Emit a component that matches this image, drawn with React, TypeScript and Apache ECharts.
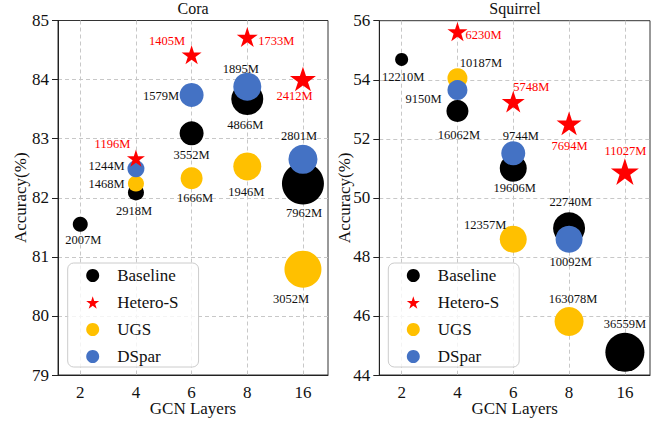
import React, { useEffect, useRef } from "react";
import * as echarts from "echarts";

// ---------- data ----------
const layers = ["2", "4", "6", "8", "16"];
const seriesNames = ["Baseline", "Hetero-S", "UGS", "DSpar"];

// Cora
const coraBaselineAcc = [81.55, 82.09, 83.09, 83.67, 82.24];
const coraBaselineMem = [2007, 2918, 3552, 4866, 7962];
const coraBaselineSize = [15, 16, 24, 32, 42];
const coraHeteroAcc = [null, 82.67, 84.42, 84.72, 84.01];
const coraHeteroMem = [null, 1196, 1405, 1733, 2412];
const coraHeteroSize = [null, 18, 20, 21, 26];
const coraUgsAcc = [null, 82.24, 82.33, 82.53, 80.79];
const coraUgsMem = [null, 1468, 1666, 1946, 3052];
const coraUgsSize = [null, 16, 22, 28, 37];
const coraDsparAcc = [null, 82.49, 83.74, 83.88, 82.65];
const coraDsparMem = [null, 1244, 1579, 1895, 2801];
const coraDsparSize = [null, 17, 24, 28, 29];

// Squirrel
const sqBaselineAcc = [54.69, 52.94, 51.0, 48.97, 44.77];
const sqBaselineMem = [12210, 16062, 19606, 22740, 36559];
const sqBaselineSize = [13, 22, 27, 32, 39];
const sqHeteroAcc = [null, 55.63, 53.26, 52.52, 50.89];
const sqHeteroMem = [null, 6230, 5748, 7694, 11027];
const sqHeteroSize = [null, 20, 23, 25, 28];
const sqUgsAcc = [null, 54.05, 48.6, 45.81, null];
const sqUgsMem = [null, 10187, 12357, 163078, null];
const sqUgsSize = [null, 20, 27, 29, null];
const sqDsparAcc = [null, 53.65, 51.51, 48.6, null];
const sqDsparMem = [null, 9150, 9744, 10092, null];
const sqDsparSize = [null, 20, 24, 27, null];

// ---------- styling ----------
const FONT = "Liberation Serif, DejaVu Serif, serif";
const COLORS: Record<string, string> = {
  Baseline: "#000000",
  "Hetero-S": "#ff0000",
  UGS: "#ffc000",
  DSpar: "#4472c4",
};
const STAR =
  "path://M50,0 L61.2,34.5 L97.6,34.5 L68.2,55.9 L79.4,90.5 L50,69.1 L20.6,90.5 L31.8,55.9 L2.4,34.5 L38.8,34.5 Z";
const GRID_LINE = { color: "#c8c8c8", type: [4, 3], width: 1 };

// label offsets (px, from marker centre) per panel/series/layer
const coraLabelOffsets: Record<string, (number[] | null)[]> = {
  Baseline: [[3, 16], [-2, 18.5], [0, 22], [-2, 26], [1, 29.5]],
  "Hetero-S": [null, [-23.5, -14.5], [-24.5, -13.5], [29, 3.5], [-8.5, 17]],
  UGS: [null, [-29.5, 0.5], [3.5, 20], [-1, 26], [-12, 30]],
  DSpar: [null, [-29.5, -2.5], [-30.5, 1.5], [-6.5, -17.5], [-4, -23.5]],
};
const sqLabelOffsets: Record<string, (number[] | null)[]> = {
  Baseline: [[1.5, 18], [1.5, 23.5], [1.5, 19.5], [1.5, -26.5], [0, -28]],
  "Hetero-S": [null, [26, 3.5], [18, -14.5], [0.5, 22.5], [0.5, -21]],
  UGS: [null, [23.5, -15], [-28, -14.5], [4, -22.5], null],
  DSpar: [null, [-34, 9], [7.5, -17.5], [1.5, 22.5], null],
};

function buildSeries(
  name: string,
  acc: (number | null)[],
  mem: (number | null)[],
  size: (number | null)[],
  offsets: (number[] | null)[],
  axisIndex: number
) {
  const data: any[] = [];
  acc.forEach((v, i) => {
    if (v === null) return;
    data.push({
      value: [i, v, mem[i], size[i]],
      label: { offset: offsets[i] || [0, 0] },
    });
  });
  const isStar = name === "Hetero-S";
  return {
    type: "scatter",
    name,
    xAxisIndex: axisIndex,
    yAxisIndex: axisIndex,
    symbol: isStar ? STAR : "circle",
    symbolKeepAspect: true,
    symbolSize: (val: any[]) => val[3],
    itemStyle: { color: COLORS[name], opacity: 1 },
    z: isStar ? 5 : 2,
    label: {
      show: true,
      position: "inside",
      align: "center",
      verticalAlign: "middle",
      formatter: (p: any) => p.value[2] + "M",
      color: isStar ? "#ff0000" : "#111111",
      fontSize: 12.5,
      fontFamily: FONT,
    },
    emphasis: { disabled: true },
    data,
  };
}

function xAxis(gridIndex: number) {
  return {
    type: "value",
    gridIndex,
    min: -0.4,
    max: 4.45,
    name: "GCN Layers",
    nameLocation: "middle",
    nameGap: 25,
    nameMoveOverlap: false,
    nameTextStyle: { fontFamily: FONT, fontSize: 17, lineHeight: 17, color: "#111" },
    axisLine: { show: true, onZero: false, lineStyle: { color: "#222", width: 1 } },
    axisTick: { show: false },
    axisLabel: {
      margin: 10,
      fontFamily: FONT,
      fontSize: 17,
      lineHeight: 15,
      color: "#111",
      formatter: (v: number) => {
        const r = Math.round(v);
        return Math.abs(v - r) < 1e-6 && r >= 0 && r < layers.length ? layers[r] : "";
      },
    },
    splitLine: { show: true, showMinLine: false, showMaxLine: false, lineStyle: GRID_LINE },
  };
}

function yAxis(gridIndex: number, min: number, max: number, interval: number, nameGap: number) {
  return {
    type: "value",
    gridIndex,
    min,
    max,
    interval,
    name: "Accuracy(%)",
    nameLocation: "middle",
    nameGap,
    nameMoveOverlap: false,
    nameTextStyle: { fontFamily: FONT, fontSize: 17, color: "#111" },
    axisLine: { show: true, onZero: false, lineStyle: { color: "#222", width: 1 } },
    axisTick: { show: true, length: 6, lineStyle: { color: "#222" } },
    axisLabel: { margin: 9, fontFamily: FONT, fontSize: 17, color: "#111" },
    splitLine: { show: true, showMinLine: false, showMaxLine: false, lineStyle: GRID_LINE },
  };
}

function legend(left: number) {
  return {
    orient: "vertical",
    left,
    top: 263,
    data: seriesNames,
    itemWidth: 13,
    itemHeight: 13,
    itemGap: 10,
    padding: [4, 20, 2, 18.5],
    backgroundColor: "rgba(255,255,255,0.8)",
    borderColor: "#cccccc",
    borderWidth: 1,
    borderRadius: 6,
    selectedMode: false,
    textStyle: {
      fontFamily: FONT,
      fontSize: 17,
      lineHeight: 17,
      color: "#111",
      padding: [0, 0, 0, 13],
    },
  };
}

export default function App() {
  const ref = useRef<HTMLDivElement>(null);
  useEffect(() => {
    if (!ref.current) return;
    document.body.style.margin = "0";
    const chart = echarts.init(ref.current, null, { renderer: "svg" });
    const series = [
      buildSeries("Baseline", coraBaselineAcc, coraBaselineMem, coraBaselineSize, coraLabelOffsets["Baseline"], 0),
      buildSeries("UGS", coraUgsAcc, coraUgsMem, coraUgsSize, coraLabelOffsets["UGS"], 0),
      buildSeries("DSpar", coraDsparAcc, coraDsparMem, coraDsparSize, coraLabelOffsets["DSpar"], 0),
      buildSeries("Hetero-S", coraHeteroAcc, coraHeteroMem, coraHeteroSize, coraLabelOffsets["Hetero-S"], 0),
      buildSeries("Baseline", sqBaselineAcc, sqBaselineMem, sqBaselineSize, sqLabelOffsets["Baseline"], 1),
      buildSeries("UGS", sqUgsAcc, sqUgsMem, sqUgsSize, sqLabelOffsets["UGS"], 1),
      buildSeries("DSpar", sqDsparAcc, sqDsparMem, sqDsparSize, sqLabelOffsets["DSpar"], 1),
      buildSeries("Hetero-S", sqHeteroAcc, sqHeteroMem, sqHeteroSize, sqLabelOffsets["Hetero-S"], 1),
    ];
    chart.setOption({
      animation: false,
      backgroundColor: "#ffffff",
      title: [
        {
          text: "Cora",
          left: 193,
          top: 0,
          padding: 0,
          textAlign: "center",
          textStyle: { fontFamily: FONT, fontSize: 16, fontWeight: "normal", color: "#111" },
        },
        {
          text: "Squirrel",
          left: 515,
          top: 0,
          padding: 0,
          textAlign: "center",
          textStyle: { fontFamily: FONT, fontSize: 16, fontWeight: "normal", color: "#111" },
        },
      ],
      grid: [
        { left: 58, top: 20.5, width: 270, height: 354.5, show: true, borderColor: "#333", borderWidth: 1, backgroundColor: "transparent", containLabel: false, outerBoundsMode: "none" },
        { left: 379.3, top: 20.7, width: 270.7, height: 354.3, show: true, borderColor: "#333", borderWidth: 1, backgroundColor: "transparent", containLabel: false, outerBoundsMode: "none" },
      ],
      xAxis: [xAxis(0), xAxis(1)],
      yAxis: [yAxis(0, 79, 85, 1, 29), yAxis(1, 44, 56, 2, 26)],
      legend: [legend(67.7), legend(388.3)],
      series,
    });
    chart.resize();
    return () => chart.dispose();
  }, []);
  return <div ref={ref} style={{ width: 670, height: 421 }} />;
}
